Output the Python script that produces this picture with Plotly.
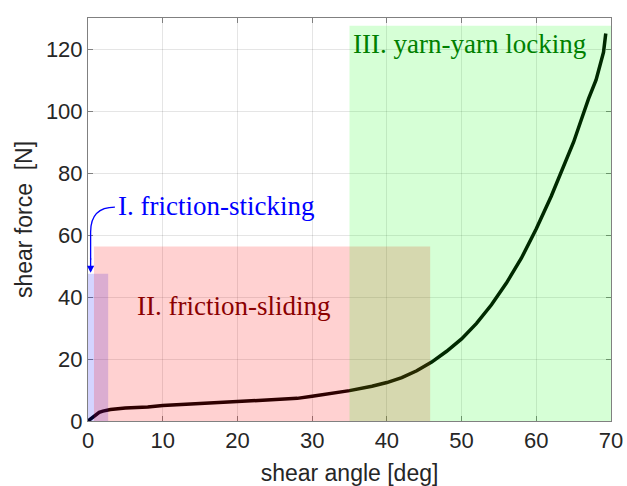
import plotly.graph_objects as go

shear_angle = [0, 0.5, 1, 1.5, 2, 3, 5, 8, 10, 13, 15, 18, 20, 23, 25, 28, 30, 33, 35, 38, 40, 42, 44, 46, 48, 50, 52, 54, 56, 58, 60, 62, 64, 65, 66, 67, 68, 69, 69.3]
shear_force = [0, 1.0, 2.0, 2.8, 3.2, 3.7, 4.2, 4.5, 5.0, 5.4, 5.8, 6.1, 6.5, 6.8, 7.0, 7.3, 8.0, 9.0, 9.8, 11.2, 12.4, 14.0, 16.2, 19.0, 22.5, 26.5, 31.5, 37.5, 44.5, 52.5, 62.0, 72.5, 84.0, 90.0, 97.0, 104.0, 110.0, 119.0, 125.0]

# regimes: (x0, x1, ymax)
regime_names = ["I. friction-sticking", "II. friction-sliding", "III. yarn-yarn locking"]
regime_x0 = [0, 0.8, 35]
regime_x1 = [2.7, 45.8, 70]
regime_ymax = [47.5, 56.3, 127.5]
regime_fill = ["rgba(0,0,255,0.17)", "rgba(255,0,0,0.18)", "rgba(0,255,0,0.16)"]
regime_text_color = ["#0000ff", "#8b0000", "#008000"]

x_ticks = [0, 10, 20, 30, 40, 50, 60, 70]
y_ticks = [0, 20, 40, 60, 80, 100, 120]

fig = go.Figure()
fig.add_trace(go.Scatter(x=shear_angle, y=shear_force, mode="lines",
                         line=dict(color="black", width=3.5), showlegend=False))

for x0, x1, ym, fc in zip(regime_x0, regime_x1, regime_ymax, regime_fill):
    fig.add_shape(type="rect", x0=x0, x1=x1, y0=0, y1=ym, xref="x", yref="y",
                  fillcolor=fc, line=dict(width=0), layer="above")

serif = "Liberation Serif, DejaVu Serif, serif"
sans = "Liberation Sans, Arial, sans-serif"
# curved arrow for region I label
fig.add_shape(type="path", path="M 3.6,69 Q 0.35,69 0.35,61 L 0.35,52",
              line=dict(color="#0000ff", width=1.3), xref="x", yref="y", layer="above")
fig.add_annotation(x=0.35, y=47.8, ax=0.35, ay=53, xref="x", yref="y", axref="x", ayref="y",
                   showarrow=True, arrowhead=2, arrowsize=1.1, arrowwidth=1.3,
                   arrowcolor="#0000ff", text="")
fig.add_annotation(x=3.7, y=69.5, text=regime_names[0], showarrow=False, xanchor="left",
                   font=dict(family=serif, size=27, color=regime_text_color[0]))
fig.add_annotation(x=19.5, y=37, text=regime_names[1], showarrow=False, xanchor="center",
                   font=dict(family=serif, size=27, color=regime_text_color[1]))
fig.add_annotation(x=35.2, y=121.5, text=regime_names[2], showarrow=False, xanchor="left",
                   font=dict(family=serif, size=27, color=regime_text_color[2]))

axis_common = dict(showgrid=True, gridcolor="rgba(0,0,0,0.1)", gridwidth=1,
                   showline=True, linecolor="#808080", linewidth=1, mirror="ticks",
                   ticks="inside", ticklen=5, tickcolor="#808080", zeroline=False,
                   automargin=False,
                   tickfont=dict(family=sans, size=22, color="#262626"))
fig.update_xaxes(range=[0, 70], tickvals=x_ticks,
                 title=dict(text="shear angle [deg]", standoff=12,
                            font=dict(family=sans, size=23, color="#262626")),
                 **axis_common)
fig.update_yaxes(range=[0, 130], tickvals=y_ticks,
                 title=dict(text="shear force  [N]", standoff=6,
                            font=dict(family=sans, size=23, color="#262626")),
                 **axis_common)

fig.update_layout(width=627, height=486, margin=dict(l=88, r=16, t=18, b=65),
                  plot_bgcolor="white", paper_bgcolor="white")
fig.write_html("out.html")
